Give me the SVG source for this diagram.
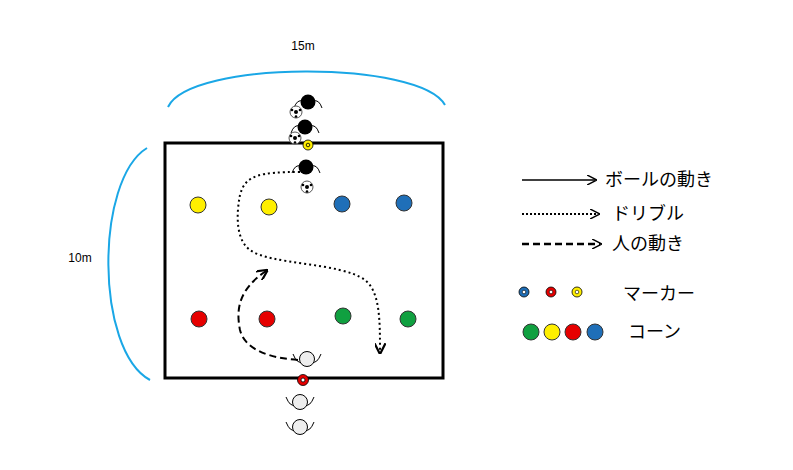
<svg xmlns="http://www.w3.org/2000/svg" width="793" height="470" viewBox="0 0 793 470">
<defs>
<marker id="ah" viewBox="0 0 10 10" refX="8" refY="5" markerWidth="11" markerHeight="11" orient="auto" markerUnits="userSpaceOnUse"><path d="M0,0 L10,5 L0,10" fill="none" stroke="#000" stroke-width="2"/></marker>
<marker id="ah2" viewBox="0 0 10 10" refX="8" refY="5" markerWidth="10" markerHeight="10" orient="auto" markerUnits="userSpaceOnUse"><path d="M0,0 L10,5 L0,10" fill="none" stroke="#000" stroke-width="1.5"/></marker>
<g id="ball"><circle r="6" fill="#fff" stroke="#555" stroke-width="1"/><circle r="2" fill="#000"/><circle cx="-4" cy="-2" r="1.3" fill="#000"/><circle cx="4" cy="-2" r="1.3" fill="#000"/><circle cx="0" cy="4.5" r="1.3" fill="#000"/></g>
<g id="bp"><path d="M-14,6 Q-11,-3 -5,-1 M5,-1 Q11,-3 14,6" fill="none" stroke="#000" stroke-width="1"/><circle r="7.5" fill="#000"/></g>
<g id="wp"><path d="M-14,-5 Q-10,5 -5,3 M5,3 Q10,5 14,-5" fill="none" stroke="#000" stroke-width="1"/><circle r="7.5" fill="#eee" stroke="#000" stroke-width="1"/></g>
</defs>
<style>
.t{font-family:"Liberation Sans",Arial,sans-serif;font-size:12px;fill:#000}
.j{font-family:"Noto Sans CJK JP","Liberation Sans",sans-serif;font-size:18px;fill:#000}
.ln{fill:none;stroke:#000;stroke-width:2}
.c{stroke:#333;stroke-width:1}
</style>
<rect width="793" height="470" fill="#fff"/>
<g id="field"><rect x="165" y="143" width="278" height="235" fill="none" stroke="#000" stroke-width="3"/></g>
<g id="dims">
<path d="M168,107 C190,60 420,60 445,105" fill="none" stroke="#1aa7e6" stroke-width="2"/>
<path d="M147,148 C95,180 95,350 150,380" fill="none" stroke="#1aa7e6" stroke-width="2"/>
<text class="t" x="303" y="50" text-anchor="middle">15m</text>
<text class="t" x="80" y="262" text-anchor="middle">10m</text>
</g>
<g id="connectors">
<path class="ln" d="M300,172 C260,172 245,175 240,195 C236,215 236,240 250,250 C270,265 340,262 365,280 C380,292 380,320 380,352" stroke-dasharray="2,3" marker-end="url(#ah)"/>
<path class="ln" d="M298,360 C270,358 245,350 240,330 C236,310 238,290 266,271" stroke-dasharray="7,4" stroke-width="2.5" marker-end="url(#ah)"/>
</g>
<g id="cones">
<circle class="c" cx="198" cy="205" r="8" fill="#ffef00"/>
<circle class="c" cx="269" cy="207" r="8" fill="#ffef00"/>
<circle class="c" cx="342" cy="204" r="8" fill="#1f6fb8"/>
<circle class="c" cx="404" cy="203" r="8" fill="#1f6fb8"/>
<circle class="c" cx="199" cy="319" r="8" fill="#e60000"/>
<circle class="c" cx="267" cy="319" r="8" fill="#e60000"/>
<circle class="c" cx="343" cy="316" r="8" fill="#10a040"/>
<circle class="c" cx="408" cy="319" r="8" fill="#10a040"/>
</g>
<g id="players-top">
<use href="#bp" x="308" y="102"/>
<use href="#ball" x="296" y="112"/>
<use href="#bp" x="305" y="127"/>
<use href="#ball" x="295" y="138"/>
<circle cx="308" cy="145" r="5" fill="#ffef00" stroke="#000" stroke-width="0.8"/><circle cx="308" cy="145" r="1.8" fill="none" stroke="#000" stroke-width="0.8"/>
<use href="#bp" x="306" y="167"/>
<use href="#ball" x="307" y="187"/>
</g>
<g id="players-bottom">
<use href="#wp" x="307" y="359"/>
<circle cx="303" cy="380" r="5.5" fill="#e60000" stroke="#000" stroke-width="0.8"/><circle cx="303" cy="380" r="2" fill="#fff" stroke="#000" stroke-width="0.8"/>
<use href="#wp" x="300" y="402"/>
<use href="#wp" x="300" y="427"/>
</g>
<g id="legend">
<line x1="522" y1="180" x2="595" y2="180" stroke="#000" stroke-width="1.5" marker-end="url(#ah2)"/>
<text class="j" x="605" y="186">ボールの動き</text>
<line x1="522" y1="214" x2="598" y2="214" stroke="#000" stroke-width="2" stroke-dasharray="2,2" marker-end="url(#ah2)"/>
<text class="j" x="612" y="220">ドリブル</text>
<line x1="522" y1="244" x2="600" y2="244" stroke="#000" stroke-width="2.5" stroke-dasharray="7,4" marker-end="url(#ah2)"/>
<text class="j" x="612" y="250">人の動き</text>
<circle cx="524" cy="292" r="5" fill="#1f6fb8" stroke="#000" stroke-width="0.8"/><circle cx="524" cy="292" r="1.8" fill="#fff" stroke="#000" stroke-width="0.6"/>
<circle cx="551" cy="292" r="5" fill="#e60000" stroke="#000" stroke-width="0.8"/><circle cx="551" cy="292" r="1.8" fill="#fff" stroke="#000" stroke-width="0.6"/>
<circle cx="577" cy="292" r="5" fill="#ffef00" stroke="#000" stroke-width="0.8"/><circle cx="577" cy="292" r="1.8" fill="#fff" stroke="#000" stroke-width="0.6"/>
<text class="j" x="623" y="300">マーカー</text>
<circle class="c" cx="531" cy="332" r="8" fill="#10a040"/>
<circle class="c" cx="552" cy="332" r="8" fill="#ffef00"/>
<circle class="c" cx="573" cy="332" r="8" fill="#e60000"/>
<circle class="c" cx="595" cy="332" r="8" fill="#1f6fb8"/>
<text class="j" x="628" y="338">コーン</text>
</g>
</svg>
